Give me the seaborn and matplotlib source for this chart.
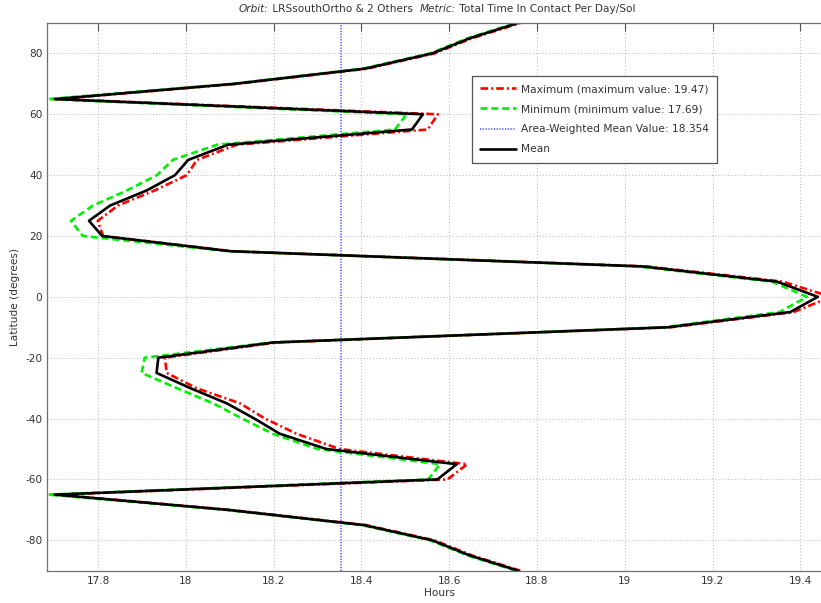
import matplotlib
matplotlib.use("Agg")
import matplotlib.pyplot as plt
import seaborn as sns
import pandas as pd
from matplotlib.offsetbox import TextArea, HPacker, AnchoredOffsetbox
from matplotlib.ticker import FormatStrFormatter, FixedLocator

# ---------------- data ----------------
latitude = [-90, -85, -80, -75, -70, -65, -60, -55, -50, -45, -40, -35, -30,
            -25, -20, -15, -10, -5, 0, 5, 10, 15, 20, 25, 30, 35, 40, 45,
            50, 55, 60, 65, 70, 75, 80, 85, 90]

mean_hours = [18.757, 18.647, 18.561, 18.405, 18.095, 17.701, 18.573, 18.617,
              18.320, 18.214, 18.156, 18.093, 18.010, 17.933, 17.937, 18.199,
              19.098, 19.377, 19.440, 19.347, 19.040, 18.101, 17.809, 17.779,
              17.827, 17.911, 17.975, 18.005, 18.096, 18.515, 18.540, 17.701,
              18.110, 18.408, 18.561, 18.647, 18.757]

max_hours = [18.762, 18.652, 18.566, 18.410, 18.100, 17.706, 18.596, 18.641,
             18.350, 18.252, 18.180, 18.123, 18.024, 17.956, 17.952, 18.205,
             19.105, 19.385, 19.470, 19.360, 19.050, 18.106, 17.811, 17.799,
             17.845, 17.929, 18.002, 18.025, 18.116, 18.551, 18.574, 17.706,
             18.115, 18.413, 18.566, 18.652, 18.762]

min_hours = [18.752, 18.642, 18.556, 18.400, 18.090, 17.686, 18.552, 18.579,
             18.300, 18.198, 18.128, 18.062, 17.979, 17.899, 17.906, 18.193,
             19.090, 19.353, 19.415, 19.335, 19.030, 18.096, 17.765, 17.738,
             17.788, 17.866, 17.934, 17.970, 18.071, 18.476, 18.503, 17.686,
             18.105, 18.403, 18.556, 18.642, 18.752]

area_weighted_mean = 18.354

x_ticks = [17.8, 18.0, 18.2, 18.4, 18.6, 18.8, 19.0, 19.2, 19.4]
y_ticks = [-80, -60, -40, -20, 0, 20, 40, 60, 80]

df = pd.DataFrame({"lat": latitude, "mean": mean_hours,
                   "max": max_hours, "min": min_hours})

# ---------------- style ----------------
sns.set_style("white")
plt.rcParams["font.family"] = ["DejaVu Sans"]
plt.rcParams["lines.scale_dashes"] = False

W, H = 821, 603
fig = plt.figure(figsize=(W / 100, H / 100), dpi=100)
left_px, right_px, top_px, bottom_px = 47.3, 831.0, 23.0, 570.7
ax = fig.add_axes([left_px / W, 1 - bottom_px / H,
                   (right_px - left_px) / W, (bottom_px - top_px) / H])

lw = 1.9
sns.lineplot(data=df, x="max", y="lat", orient="y", sort=False, estimator=None,
             ax=ax, color="#ff0000", lw=lw, linestyle=(0, (5.5, 2.2, 1.4, 2.2)),
             label="Maximum (maximum value: %.2f)" % max(max_hours))
sns.lineplot(data=df, x="min", y="lat", orient="y", sort=False, estimator=None,
             ax=ax, color="#00ee00", lw=lw, linestyle=(0, (5.0, 2.8)),
             label="Minimum (minimum value: %.2f)" % min(min_hours))
ax.axvline(area_weighted_mean, color="#4646ff", lw=1.1, linestyle=(0, (0.9, 1.1)),
           label="Area-Weighted Mean Value: %.3f" % area_weighted_mean)
sns.lineplot(data=df, x="mean", y="lat", orient="y", sort=False, estimator=None,
             ax=ax, color="black", lw=lw, label="Mean")

ax.set_xlim(17.684, 19.47)
ax.set_ylim(-90, 90)
ax.xaxis.set_major_locator(FixedLocator(x_ticks))
ax.yaxis.set_major_locator(FixedLocator(y_ticks))
ax.xaxis.set_major_formatter(FormatStrFormatter("%g"))
ax.yaxis.set_major_formatter(FormatStrFormatter("%g"))

ax.grid(True, color="#a8a8a8", lw=0.6, linestyle=(0, (0.7, 1.6)))
ax.set_axisbelow(True)
for s in ax.spines.values():
    s.set_color("#707070")
    s.set_linewidth(0.9)
ax.tick_params(axis="both", which="major", direction="in", length=5.5,
               width=0.8, color="#555555", labelsize=7.6, labelcolor="#333333",
               top=True, right=True, pad=3.5)

ax.set_xlabel("Hours", fontsize=7.6, color="#333333", labelpad=1.5)
ax.set_ylabel("Latitude (degrees)", fontsize=7.6, color="#333333", labelpad=4)

# legend
leg = ax.legend(loc="upper left", bbox_to_anchor=(472 / W, 1 - 76 / H),
                bbox_transform=fig.transFigure, borderaxespad=0,
                fontsize=7.7, frameon=True, fancybox=False, framealpha=1,
                handlelength=3.4, handletextpad=0.45, labelspacing=0.95,
                borderpad=0.75)
leg.get_frame().set_edgecolor("#555555")
leg.get_frame().set_linewidth(0.9)
for t in leg.get_texts():
    t.set_color("#333333")

# title with mixed italic pieces
fs_t = 7.6
parts = [("Orbit:", "italic"), (" LRSsouthOrtho & 2 Others  ", "normal"),
         ("Metric:", "italic"), (" Total Time In Contact Per Day/Sol", "normal")]
boxes = [TextArea(txt, textprops=dict(fontstyle=st, fontsize=fs_t, color="#333333"))
         for txt, st in parts]
pack = HPacker(children=boxes, align="baseline", pad=0, sep=0)
anch = AnchoredOffsetbox(loc="upper center", child=pack, pad=0, borderpad=0,
                         frameon=False, bbox_to_anchor=(437 / W, 1 - 4 / H),
                         bbox_transform=fig.transFigure)
fig.add_artist(anch)

fig.savefig("out.png", dpi=100)
